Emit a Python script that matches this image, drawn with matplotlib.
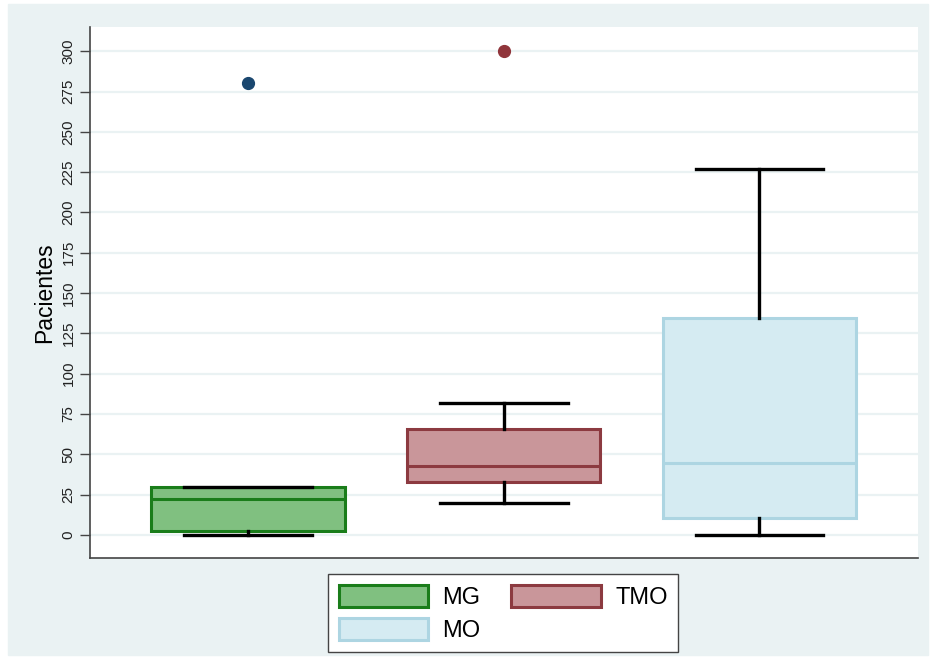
import matplotlib.pyplot as plt
from matplotlib.patches import Rectangle, Patch

groups = ['MG', 'TMO', 'MO']
whislo = [0, 20, 0]
q1 = [2.5, 33, 10.5]
med = [22.5, 42.5, 44.5]
q3 = [29.5, 66, 134.5]
whishi = [30, 82, 227]
fliers = [[280], [300], []]

face = ['#80c080', '#c9969a', '#d5ebf2']
edge = ['#1a7d1a', '#8c3a40', '#add5e2']
flier_col = ['#1a476f', '#90353b', '#1a476f']
bg = '#eaf2f3'

plt.rcParams['font.family'] = ['Liberation Sans', 'DejaVu Sans']

fig = plt.figure(figsize=(9.3, 6.58), dpi=100)
fig.patches.append(Rectangle((8/930, 3/658), 920/930, 651/658,
                             transform=fig.transFigure, color=bg, zorder=-10))
ax = fig.add_axes([90/930, 1-558/658, 828/930, 531/658])

stats = []
for i in range(3):
    stats.append(dict(whislo=whislo[i], q1=q1[i], med=med[i], q3=q3[i],
                      whishi=whishi[i], fliers=fliers[i], label=groups[i]))

for i in range(3):
    ax.bxp([stats[i]], positions=[i+1], widths=0.755, patch_artist=True,
           boxprops=dict(facecolor=face[i], edgecolor=edge[i], linewidth=2.2),
           medianprops=dict(color=edge[i], linewidth=2.2),
           whiskerprops=dict(color='k', linewidth=2.4),
           capprops=dict(color='k', linewidth=2.4),
           capwidths=0.5,
           flierprops=dict(marker='o', markerfacecolor=flier_col[i],
                           markeredgecolor=flier_col[i], markersize=8.5),
           manage_ticks=False)

ax.set_xlim(0.382, 3.62)
ax.set_ylim(-14.3, 315)
ax.set_yticks(range(0, 301, 25))
ax.set_xticks([])
for t in ax.get_yticklabels():
    t.set_rotation(90)
    t.set_va('center')
ax.tick_params(axis='y', labelsize=11, length=7, width=1, color='#444444',
               labelcolor='#222222')
ax.yaxis.grid(True, color=bg, linewidth=1.6)
ax.set_axisbelow(True)
for s in ['top', 'right']:
    ax.spines[s].set_visible(False)
for s in ['left', 'bottom']:
    ax.spines[s].set_color('#444444')
    ax.spines[s].set_linewidth(1.2)
ax.set_ylabel('Pacientes', fontsize=16.5, labelpad=4)

# legend fills column-wise, so order as MG, MO | TMO
order = [0, 2, 1]
handles = [Patch(facecolor=face[i], edgecolor=edge[i], linewidth=2.2) for i in order]
leg = fig.legend(handles, [groups[i] for i in order], loc='upper left',
                 bbox_to_anchor=(328/930, 1-574/658), borderaxespad=0,
                 ncol=2, fontsize=17, framealpha=1,
                 frameon=True, fancybox=False, edgecolor='#444444',
                 handlelength=3.8, handleheight=1.05, handletextpad=0.6,
                 columnspacing=1.3, labelspacing=0.38, borderpad=0.45)
leg.get_frame().set_linewidth(1.0)

fig.savefig('out.png', dpi=100, facecolor='white')
